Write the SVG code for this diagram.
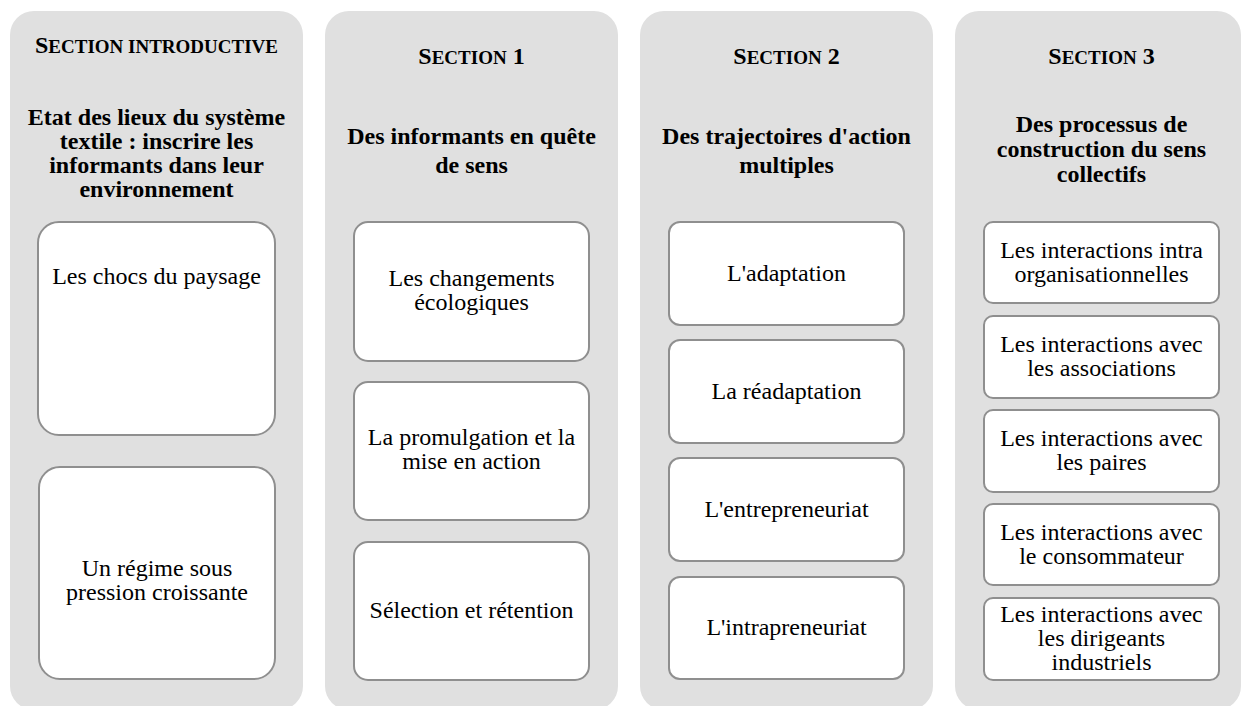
<svg xmlns="http://www.w3.org/2000/svg" width="1242" height="706" viewBox="0 0 1242 706" font-family="'Liberation Serif', 'DejaVu Serif', serif">
<style>
.panel{fill:#e0e0e0;stroke:none}
.box{fill:#ffffff;stroke:#8f8f8f;stroke-width:2}
.t{font-family:'Liberation Serif','DejaVu Serif',serif;fill:#000;text-anchor:middle}
.hd{font-weight:bold;font-size:24px}
.sc{font-size:19px}
.ti{font-weight:bold;font-size:24px}
.bt{font-size:24px}
</style>
<rect width="1242" height="706" fill="#ffffff"/>
<g id="connectors"></g>

<g id="panel-intro">
<rect class="panel" x="10" y="11" width="293" height="699" rx="24"/>
<text class="t hd" x="156.5" y="53">S<tspan class="sc">ECTION INTRODUCTIVE</tspan></text>
<text class="t ti" x="156.5" y="125">Etat des lieux du système</text>
<text class="t ti" x="156.5" y="149">textile : inscrire les</text>
<text class="t ti" x="156.5" y="173">informants dans leur</text>
<text class="t ti" x="156.5" y="197">environnement</text>
</g>
<g id="box-intro-1">
<rect class="box" x="38" y="222" width="237" height="213" rx="21"/>
<text class="t bt" x="156.5" y="284">Les chocs du paysage</text>
</g>
<g id="box-intro-2">
<rect class="box" x="39" y="467" width="236" height="212" rx="21"/>
<text class="t bt" x="157" y="576">Un régime sous</text>
<text class="t bt" x="157" y="600">pression croissante</text>
</g>

<g id="panel-1">
<rect class="panel" x="325" y="11" width="293" height="699" rx="24"/>
<text class="t hd" x="471.5" y="64">S<tspan class="sc">ECTION</tspan> 1</text>
<text class="t ti" x="471.5" y="144">Des informants en quête</text>
<text class="t ti" x="471.5" y="172.5">de sens</text>
</g>
<g id="box-1-1">
<rect class="box" x="354" y="222" width="235" height="139" rx="14"/>
<text class="t bt" x="471.5" y="286">Les changements</text>
<text class="t bt" x="471.5" y="310">écologiques</text>
</g>
<g id="box-1-2">
<rect class="box" x="354" y="382" width="235" height="138" rx="14"/>
<text class="t bt" x="471.5" y="445">La promulgation et la</text>
<text class="t bt" x="471.5" y="469">mise en action</text>
</g>
<g id="box-1-3">
<rect class="box" x="354" y="542" width="235" height="138" rx="14"/>
<text class="t bt" x="471.5" y="618">Sélection et rétention</text>
</g>

<g id="panel-2">
<rect class="panel" x="640" y="11" width="293" height="699" rx="24"/>
<text class="t hd" x="786.5" y="64">S<tspan class="sc">ECTION</tspan> 2</text>
<text class="t ti" x="786.5" y="144">Des trajectoires d'action</text>
<text class="t ti" x="786.5" y="172.5">multiples</text>
</g>
<g id="box-2-1">
<rect class="box" x="669" y="222" width="235" height="103" rx="11"/>
<text class="t bt" x="786.5" y="281">L'adaptation</text>
</g>
<g id="box-2-2">
<rect class="box" x="669" y="340" width="235" height="103" rx="11"/>
<text class="t bt" x="786.5" y="399">La réadaptation</text>
</g>
<g id="box-2-3">
<rect class="box" x="669" y="458" width="235" height="103" rx="11"/>
<text class="t bt" x="786.5" y="517">L'entrepreneuriat</text>
</g>
<g id="box-2-4">
<rect class="box" x="669" y="577" width="235" height="102" rx="11"/>
<text class="t bt" x="786.5" y="635">L'intrapreneuriat</text>
</g>

<g id="panel-3">
<rect class="panel" x="955" y="11" width="286" height="699" rx="24"/>
<text class="t hd" x="1101.5" y="64">S<tspan class="sc">ECTION</tspan> 3</text>
<text class="t ti" x="1101.5" y="132">Des processus de</text>
<text class="t ti" x="1101.5" y="157">construction du sens</text>
<text class="t ti" x="1101.5" y="182">collectifs</text>
</g>
<g id="box-3-1">
<rect class="box" x="984" y="222" width="235" height="81" rx="9"/>
<text class="t bt" x="1101.5" y="258">Les interactions intra</text>
<text class="t bt" x="1101.5" y="282">organisationnelles</text>
</g>
<g id="box-3-2">
<rect class="box" x="984" y="316" width="235" height="82" rx="9"/>
<text class="t bt" x="1101.5" y="352">Les interactions avec</text>
<text class="t bt" x="1101.5" y="376">les associations</text>
</g>
<g id="box-3-3">
<rect class="box" x="984" y="410" width="235" height="82" rx="9"/>
<text class="t bt" x="1101.5" y="446">Les interactions avec</text>
<text class="t bt" x="1101.5" y="470">les paires</text>
</g>
<g id="box-3-4">
<rect class="box" x="984" y="504" width="235" height="81" rx="9"/>
<text class="t bt" x="1101.5" y="540">Les interactions avec</text>
<text class="t bt" x="1101.5" y="564">le consommateur</text>
</g>
<g id="box-3-5">
<rect class="box" x="984" y="598" width="235" height="82" rx="9"/>
<text class="t bt" x="1101.5" y="622">Les interactions avec</text>
<text class="t bt" x="1101.5" y="646">les dirigeants</text>
<text class="t bt" x="1101.5" y="670">industriels</text>
</g>
</svg>
